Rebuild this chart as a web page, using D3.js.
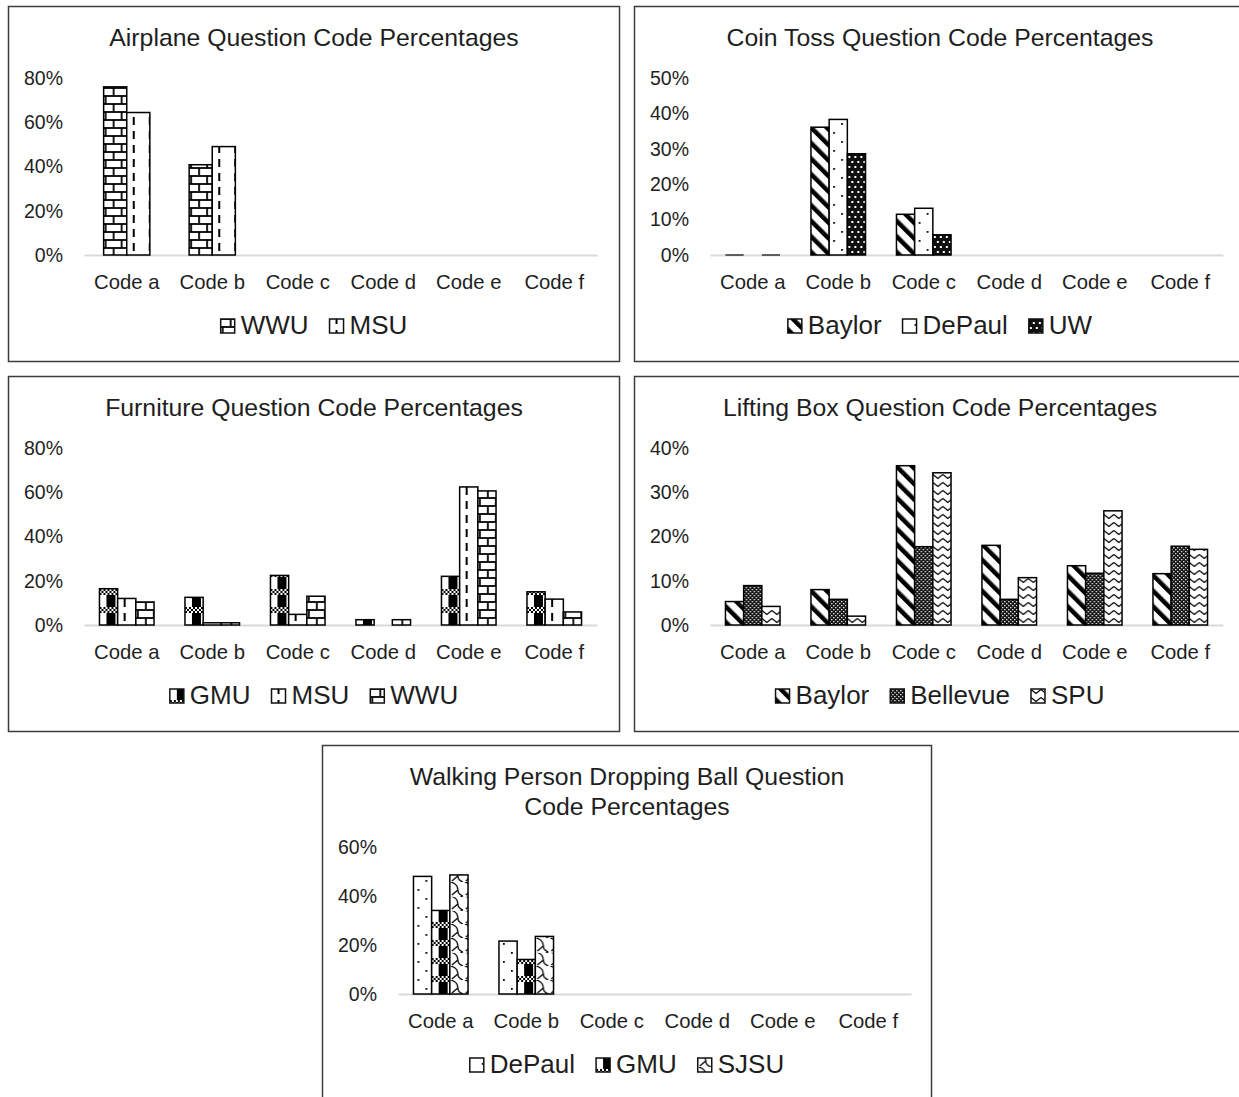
<!DOCTYPE html>
<html><head><meta charset="utf-8">
<script src="https://cdn.jsdelivr.net/npm/d3@7"></script>
<style>body{margin:0;background:#fff}svg{display:block}</style>
</head><body><svg id="c" width="1239" height="1097"></svg>
<script>
// ---------- data ----------
const categories = ["Code a","Code b","Code c","Code d","Code e","Code f"];

const airplaneTitle = ["Airplane Question Code Percentages"];
const airplaneSeries = ["WWU","MSU"];
const airplaneWWU = [76, 40.8, null, null, null, null];
const airplaneMSU = [64.4, 49, null, null, null, null];
const airplaneTicks = [0,20,40,60,80];

const coinTitle = ["Coin Toss Question Code Percentages"];
const coinSeries = ["Baylor","DePaul","UW"];
const coinBaylor = [0, 36.1, 11.5, null, null, null];
const coinDePaul = [null, 38.3, 13.2, null, null, null];
const coinUW = [0, 28.6, 5.7, null, null, null];
const coinTicks = [0,10,20,30,40,50];

const furnitureTitle = ["Furniture Question Code Percentages"];
const furnitureSeries = ["GMU","MSU","WWU"];
const furnitureGMU = [16.4, 12.5, 22.4, 2.4, 22, 15];
const furnitureMSU = [12, 1, 4.8, null, 62.4, 11.7];
const furnitureWWU = [10.4, 1, 13, 2.4, 60.6, 5.9];
const furnitureTicks = [0,20,40,60,80];

const liftingTitle = ["Lifting Box Question Code Percentages"];
const liftingSeries = ["Baylor","Bellevue","SPU"];
const liftingBaylor = [5.3, 8.0, 36, 18, 13.4, 11.6];
const liftingBellevue = [8.9, 5.8, 17.7, 5.8, 11.7, 17.8];
const liftingSPU = [4.2, 2.0, 34.4, 10.7, 25.8, 17.1];
const liftingTicks = [0,10,20,30,40];

const walkingTitle = ["Walking Person Dropping Ball Question","Code Percentages"];
const walkingSeries = ["DePaul","GMU","SJSU"];
const walkingDePaul = [48, 21.6, null, null, null, null];
const walkingGMU = [34.1, 14.1, null, null, null, null];
const walkingSJSU = [48.6, 23.5, null, null, null, null];
const walkingTicks = [0,20,40,60];

// ---------- chart setup ----------
const charts = [
  {px:8,  py:6,   w:612, title:airplaneTitle, series:airplaneSeries, values:[airplaneWWU,airplaneMSU], pats:["brick","dashV"], ticks:airplaneTicks, top:72},
  {px:634,py:6,   w:612, title:coinTitle, series:coinSeries, values:[coinBaylor,coinDePaul,coinUW], pats:["diag","dots","uw"], ticks:coinTicks, top:72},
  {px:8,  py:376, w:612, title:furnitureTitle, series:furnitureSeries, values:[furnitureGMU,furnitureMSU,furnitureWWU], pats:["gmu","dashV","brick"], ticks:furnitureTicks, top:72},
  {px:634,py:376, w:612, title:liftingTitle, series:liftingSeries, values:[liftingBaylor,liftingBellevue,liftingSPU], pats:["diag","bell","spu"], ticks:liftingTicks, top:72},
  {px:322,py:745, w:610, title:walkingTitle, series:walkingSeries, values:[walkingDePaul,walkingGMU,walkingSJSU], pats:["dots","gmu","sjsu"], ticks:walkingTicks, top:102}
];
const panelH = 355;
const FONT = "'Liberation Sans', Arial, Helvetica, sans-serif";
const TXT = "#1e1e1e";

const svg = d3.select("#c");
const defs = svg.append("defs");

function addPattern(id, w, h, build, transform){
  const p = defs.append("pattern").attr("id", id).attr("patternUnits","userSpaceOnUse")
    .attr("width", w).attr("height", h);
  if (transform) p.attr("patternTransform", transform);
  p.append("rect").attr("width", w).attr("height", h).attr("fill","#fff");
  build(p);
}
function ln(p, x1, y1, x2, y2, sw){
  p.append("line").attr("x1",x1).attr("y1",y1).attr("x2",x2).attr("y2",y2)
    .attr("stroke","#000").attr("stroke-width",sw);
}
// brick
addPattern("brick", 16, 16, p => {
  ln(p,0,1,16,1,1.8); ln(p,0,9,16,9,1.8); ln(p,2,1,2,9,1.8); ln(p,10,9,10,17,1.8);
});
// dashed vertical
addPattern("dashV", 16, 14, p => {
  p.append("rect").attr("x",6).attr("y",2).attr("width",2).attr("height",8).attr("fill","#000");
});
// wide downward diagonal
addPattern("diag", 11, 11, p => {
  p.append("rect").attr("x",0).attr("y",0).attr("width",4.5).attr("height",11).attr("fill","#000");
}, "rotate(-45)");
// sparse dots
addPattern("dots", 16, 18, p => {
  p.append("rect").attr("x",4).attr("y",3).attr("width",1.8).attr("height",1.8).attr("fill","#000");
  p.append("rect").attr("x",12).attr("y",12).attr("width",1.8).attr("height",1.8).attr("fill","#000");
});
// black with white dots
addPattern("uw", 6, 10, p => {
  p.append("rect").attr("width",6).attr("height",10).attr("fill","#111");
  p.append("rect").attr("x",1).attr("y",1).attr("width",2).attr("height",2).attr("fill","#fff");
  p.append("rect").attr("x",4).attr("y",6).attr("width",2).attr("height",2).attr("fill","#fff");
});
// GMU: dark column + checker bands
addPattern("gmu", 18, 18, p => {
  p.append("rect").attr("x",7).attr("y",6).attr("width",9).attr("height",12).attr("fill","#000");
  for (let i=0;i<9;i++) for (let j=0;j<3;j++) if ((i+j)%2===0)
    p.append("rect").attr("x",i*2).attr("y",j*2).attr("width",2).attr("height",2).attr("fill","#000");
});
// Bellevue: dense checker
addPattern("bell", 4, 4, p => {
  p.append("rect").attr("width",4).attr("height",4).attr("fill","#111");
  p.append("rect").attr("x",0).attr("y",0).attr("width",1.3).attr("height",1.3).attr("fill","#fff");
  p.append("rect").attr("x",2).attr("y",2).attr("width",1.3).attr("height",1.3).attr("fill","#fff");
});
// SPU: zigzag chevrons
addPattern("spu", 10, 8, p => {
  p.append("path").attr("d","M0,1.5 L5,5.5 L10,1.5").attr("fill","none").attr("stroke","#000").attr("stroke-width",1.3);
});
// SJSU: curved hooks
addPattern("sjsu", 14, 14, p => {
  p.append("path").attr("d","M1,0 Q8,2 8,8 Q8,12 13,14").attr("fill","none").attr("stroke","#000").attr("stroke-width",1.3);
  p.append("path").attr("d","M8,8 L2,13").attr("fill","none").attr("stroke","#000").attr("stroke-width",1.3);
});

// ---------- draw ----------
charts.forEach(c => {
  const g = svg.append("g").attr("transform", `translate(${c.px},${c.py})`);
  g.append("rect").attr("x",0.5).attr("y",0.5).attr("width",c.w-1).attr("height",panelH)
    .attr("fill","#fff").attr("stroke","#3c3c3c").attr("stroke-width",1.5);

  // title
  c.title.forEach((t,i) => {
    g.append("text").attr("x", c.w/2).attr("y", 40 + i*30).attr("text-anchor","middle")
      .attr("font-family",FONT).attr("font-size",24.8).attr("fill",TXT).text(t);
  });

  const baseY = 249;
  const x = d3.scaleBand().domain(categories).range([76, 589]);
  const y = d3.scaleLinear().domain([0, d3.max(c.ticks)]).range([baseY, c.top]);
  const n = c.series.length;
  const bw = x.bandwidth() / (n + 1.7);
  const xi = d3.scaleBand().domain(c.series).range([0, bw*n]);
  const off = (x.bandwidth() - bw*n)/2;

  // y axis labels
  const ya = g.append("g").attr("transform","translate(76,0)")
    .call(d3.axisLeft(y).tickValues(c.ticks).tickFormat(d => d + "%").tickSize(0).tickPadding(21));
  ya.select(".domain").remove();
  ya.selectAll("text").attr("font-family",FONT).attr("font-size",19.5).attr("fill",TXT);

  // x axis
  const xa = g.append("g").attr("transform",`translate(0,${baseY})`)
    .call(d3.axisBottom(x).tickSize(0).tickSizeOuter(0).tickPadding(20));
  xa.select(".domain").attr("stroke","#d9d9d9").attr("stroke-width",1.8);
  xa.selectAll("text").attr("font-family",FONT).attr("font-size",20.3).attr("fill",TXT);

  // bars
  c.series.forEach((s, si) => {
    c.values[si].forEach((v, ci) => {
      if (v === null) return;
      const bx = x(categories[ci]) + off + xi(s);
      const bg = g.append("g").attr("transform", `translate(${bx},${baseY})`);
      if (v === 0) {
        bg.append("line").attr("x1",0).attr("x2",xi.bandwidth()).attr("y1",0).attr("y2",0)
          .attr("stroke","#333").attr("stroke-width",1.5);
      } else {
        const h = baseY - y(v);
        bg.append("rect").attr("x",0).attr("y",-h).attr("width",xi.bandwidth()).attr("height",h)
          .attr("fill",`url(#${c.pats[si]})`).attr("stroke","#000").attr("stroke-width",1.5);
      }
    });
  });

  // legend
  const lg = g.append("g");
  let cx = 0;
  c.series.forEach((s, si) => {
    const it = lg.append("g").attr("transform",`translate(${cx},0)`);
    it.append("rect").attr("x",0).attr("y",313).attr("width",14).attr("height",14)
      .attr("fill",`url(#${c.pats[si]})`).attr("stroke","#111").attr("stroke-width",1.5);
    const t = it.append("text").attr("x",20).attr("y",327.5).attr("font-family",FONT)
      .attr("font-size",26).attr("fill",TXT).text(s);
    cx += 20 + t.node().getComputedTextLength() + 21;
  });
  const total = cx - 21;
  lg.attr("transform", `translate(${(c.w - total)/2},0)`);
});
</script>
</body></html>
